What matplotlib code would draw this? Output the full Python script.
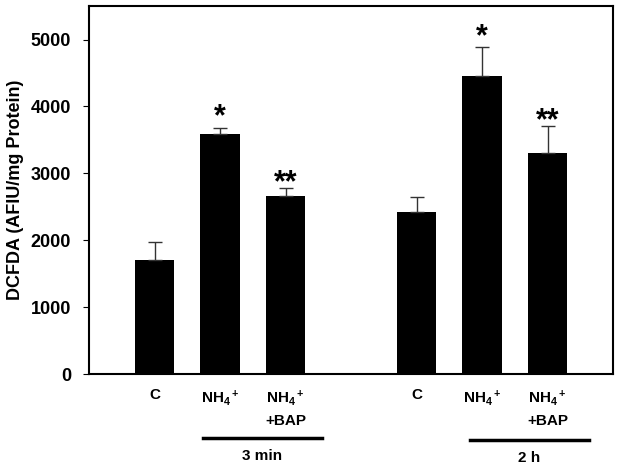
import numpy as np
import matplotlib
matplotlib.use('Agg')
import matplotlib.pyplot as plt

plt.rcParams['font.family'] = ['Liberation Sans', 'DejaVu Sans']
plt.rcParams['font.weight'] = 'bold'
plt.rcParams['mathtext.fontset'] = 'custom'
plt.rcParams['mathtext.rm'] = 'Liberation Sans:bold'
plt.rcParams['mathtext.it'] = 'Liberation Sans:bold'
plt.rcParams['mathtext.bf'] = 'Liberation Sans:bold'

# data
positions = [0, 1, 2, 4, 5, 6]
labels = ['C', r'NH$_4$$^+$', 'NH$_4$$^+$\n+BAP', 'C', r'NH$_4$$^+$', 'NH$_4$$^+$\n+BAP']
values = [1700, 3590, 2665, 2420, 4450, 3300]
errors = [270, 95, 115, 230, 435, 410]
stars = ['', '*', '**', '', '*', '**']
groups = ['3 min', '2 h']
group_spans = [(0.735, 2.55), (4.81, 6.63)]

fig = plt.figure(figsize=(6.21, 4.70), dpi=100)
ax = fig.add_axes([0.1433, 0.204, 0.844, 0.783])

ax.bar(positions, values, width=0.6, color='black')
ax.errorbar(positions, values, yerr=[np.zeros(len(errors)), errors], fmt='none',
            ecolor='#333333', elinewidth=1, capsize=5, capthick=1)

for x, v, e, s in zip(positions, values, errors, stars):
    if s:
        off = -3.5 if len(s) == 1 else -7.5
        ax.annotate(s, (x, v + e), xytext=(0, off), textcoords='offset points',
                    ha='center', va='bottom', fontsize=22, fontweight='bold')

ax.set_xlim(-1, 7)
ax.set_ylim(0, 5500)
ax.set_yticks(range(0, 5001, 1000))
ax.set_xticks(positions)
ax.set_xticklabels(labels, fontsize=11, fontweight='bold', linespacing=1.6)
ax.tick_params(axis='x', length=0, pad=10)
ax.tick_params(axis='y', labelsize=13, direction='out', length=4, pad=9)
for lab in ax.get_yticklabels():
    lab.set_fontweight('bold')
ax.set_ylabel('DCFDA (AFIU/mg Protein)', fontsize=13, fontweight='bold', labelpad=5)

for sp in ax.spines.values():
    sp.set_linewidth(1.5)

# group bars under x labels
for (x0, x1), g, yl in zip(group_spans, groups, [-0.173, -0.179]):
    ax.plot([x0, x1], [yl, yl], transform=ax.get_xaxis_transform(), color='black',
            lw=2.5, clip_on=False)
    ax.text((x0 + x1) / 2, yl - 0.05, g, transform=ax.get_xaxis_transform(),
            ha='center', va='center', fontsize=11, fontweight='bold')

fig.savefig('out.png', dpi=100)
